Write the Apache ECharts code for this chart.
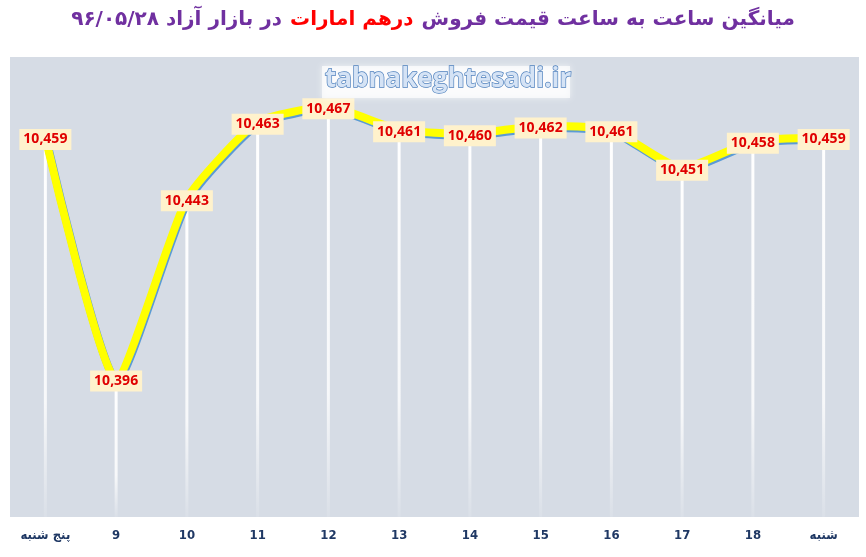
<!DOCTYPE html>
<html>
<head>
<meta charset="utf-8">
<script src="https://cdn.jsdelivr.net/npm/echarts@6/dist/echarts.min.js"></script>
<style>
html, body { margin: 0; padding: 0; background: #fff; }
#main { width: 866px; height: 557px; }
</style>
</head>
<body>
<div id="main"></div>
<script>
var hours = ['پنج شنبه', '9', '10', '11', '12', '13', '14', '15', '16', '17', '18', 'شنبه'];
var prices = [10459, 10396, 10443, 10463, 10467, 10461, 10460, 10462, 10461, 10451, 10458, 10459];

var myChart = echarts.init(document.getElementById('main'));

var option = {
	backgroundColor: '#fff',
	animation: false,
	title: {
		left: 'center',
		top: 5,
		// rtl title split in three runs, ordered left to right as shown
		text: '{p|در بازار آزاد ۹۶/۰۵/۲۸}{r|درهم امارات}{p|میانگین ساعت به ساعت قیمت فروش}',
		textStyle: {
			rich: {
				p: { color: '#7030a0', fontSize: 20, fontWeight: 'bold', fontFamily: 'DejaVu Sans', padding: [0, 4] },
				r: { color: '#ff0000', fontSize: 20, fontWeight: 'bold', fontFamily: 'DejaVu Sans', padding: [0, 4] }
			}
		}
	},
	graphic: [{
		type: 'rect',
		shape: { x: 322, y: 66, width: 248, height: 32 },
		style: { fill: 'rgba(255,255,255,0.7)', shadowBlur: 6, shadowColor: 'rgba(255,255,255,0.9)' },
		z: 10
	}, {
		type: 'text',
		x: 325,
		y: 67,
		style: {
			text: 'tabnakeghtesadi.ir',
			fill: '#d5e3f5',
			stroke: '#4f81bd',
			lineWidth: 1.4,
			font: 'bold 26px "Open Sans"'
		},
		z: 11
	}],
	grid: {
		left: 10,
		right: 7,
		top: 57,
		bottom: 40,
		show: true,
		backgroundColor: '#d6dce5',
		borderWidth: 0
	},
	xAxis: {
		type: 'category',
		data: hours,
		axisLine: { show: false },
		axisTick: { show: false },
		axisLabel: {
			margin: 12,
			color: '#1f3864',
			fontWeight: 'bold',
			fontSize: 13,
			fontFamily: 'Liberation Sans Narrow, DejaVu Sans Condensed, DejaVu Sans'
		}
	},
	yAxis: {
		type: 'value',
		min: 10360,
		max: 10480,
		show: false,
		splitLine: { show: false }
	},
	series: [{
		// white drop lines
		type: 'bar',
		data: prices,
		barWidth: 3,
		silent: true,
		itemStyle: {
			color: new echarts.graphic.LinearGradient(0, 0, 0, 1, [
				{ offset: 0, color: 'rgba(255,255,255,1)' },
				{ offset: 0.7, color: 'rgba(255,255,255,0.8)' },
				{ offset: 1, color: 'rgba(255,255,255,0.1)' }
			])
		}
	}, {
		type: 'line',
		data: prices,
		smooth: 0.18,
		symbol: 'circle',
		symbolSize: 1,
		itemStyle: { color: 'rgba(0,0,0,0)' },
		lineStyle: {
			color: '#ffff00',
			width: 8,
			shadowColor: '#5b9bd5',
			shadowBlur: 0,
			shadowOffsetX: 1,
			shadowOffsetY: 2
		},
		label: {
			show: true,
			position: 'inside',
			offset: [0, 2],
			color: '#e00000',
			fontWeight: 'bold',
			fontSize: 14,
			fontFamily: 'Open Sans',
			backgroundColor: '#fff2cc',
			padding: [4, 4, 3, 4],
			formatter: function (p) {
				return p.value.toLocaleString('en-US');
			}
		},
		z: 5
	}]
};

myChart.setOption(option);
</script>
</body>
</html>
